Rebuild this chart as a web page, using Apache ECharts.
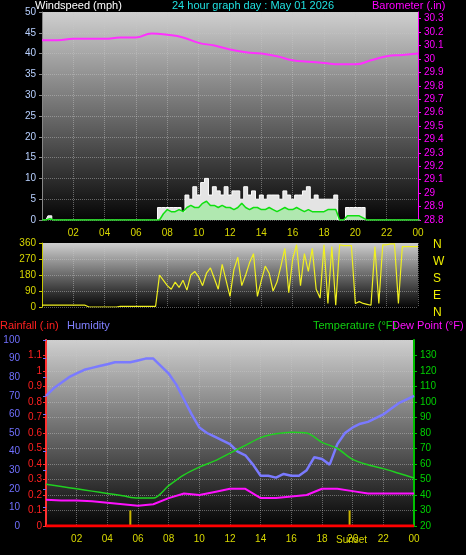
<!DOCTYPE html>
<html><head><meta charset="utf-8">
<script src="https://cdn.jsdelivr.net/npm/echarts@6/dist/echarts.min.js"></script>
<style>html,body{margin:0;background:#000}#c{width:466px;height:555px}</style>
</head><body><div id="c"></div>
<script>
const hourTicks = ['02','04','06','08','10','12','14','16','18','20','22','00'];
const baroHourly = [30.14,30.14,30.15,30.15,30.15,30.16,30.16,30.19,30.18,30.16,30.12,30.10,30.07,30.05,30.04,30.02,29.99,29.98,29.97,29.96,29.96,29.99,30.02,30.03,30.04];
const gustQuarter = [0,0,1,0,0,0,0,0,0,0,0,0,0,0,0,0,0,0,0,0,0,0,0,0,0,0,0,0,0,0,
 3,3,3,3,3,3,2,6,5,8,6,9,10,6,8,7,6,8,6,7,7,5,8,6,7,5,6,5,6,6,6,5,7,6,5,6,6,7,8,5,6,5,5,5,5,6,0,0,
 3,3,3,3,3,0, 0,0,0,0,0,0,0,0,0,0,0,0,0,0];
const avgQuarter = [0,0,0.3,0,0,0,0,0,0,0,0,0,0,0,0,0,0,0,0,0,0,0,0,0,0,0,0,0,0,0,
 0,1.5,2.5,2,2,2.5,2,3,3.5,3,3,4,4.5,3.5,3.5,3,3.5,3,3,2.5,3,4,3,2.5,3,3,2.5,2.5,3,2.5,2,2.5,3,2.5,2.5,3,2.5,2,2.5,2,2,2,2,2.5,2.5,2.5,0,0,
 1,1,1,1,0.5,0, 0,0,0,0,0,0,0,0,0,0,0,0,0,0];
const dirQuarter = [10,10,10,10,10,10,10,10,10,10,10,10,0,0,0,0,0,0,0,0,3,3,3,3,3,3,3,3,3,3,
 180,150,120,100,140,110,150,95,180,200,170,120,190,220,160,100,240,150,60,210,280,120,180,250,300,60,150,230,190,90,140,230,330,80,270,350,120,300,200,330,100,50,350,20,340,10,350,
 345,345,345,20,30,20,15,10,340,20,350,350,355,355,20,340,340,340,340,340];
const humidityHalf = [70,74,77,80,82,84,85,86,87,88,88,88,89,90,90,86,82,76,68,60,53,50,48,46,44,40,38,33,27,27,26,28,27,27,30,37,36,33,44,50,53,55,56,58,60,63,66,68,70];
const tempHourly = [47,45.5,44,42.5,41,39.5,38,38,46,53,58,62,67,72,77,79.5,80.5,80,74,70,63,59.5,57,54,51];
const dewHourly = [37,36.5,36.5,36,35,34,33,34,38,41,40,42,44,44,38,38,39,40,44,44,42.5,41,41,41,41];
const rainHourly = [0,0,0,0,0,0,0,0,0,0,0,0,0,0,0,0,0,0,0,0,0,0,0,0,0];
const sunEvents = [5.5, 19.8];
const dirLabels = ['N','W','S','E','N'];

const step = (arr, s) => arr.map((v,i)=>[i*s, v]);
const F = 'Liberation Sans, Arial, sans-serif';
const bg = {type:'linear',x:0,y:0,x2:0,y2:1,colorStops:[{offset:0,color:'#cfcfcf'},{offset:1,color:'#050505'}]};
const gridLine = {show:true,lineStyle:{color:'rgba(200,200,200,0.45)',type:'dotted'}};
const xFmt = v => v===0 ? '' : hourTicks[v/2-1];
function xAx(grid, showLabel){
  return {type:'value',gridIndex:grid,min:0,max:24,interval:2,
    axisLine:{show:false},axisTick:{show:false},splitLine:gridLine,
    axisLabel:{show:showLabel,color:'#d8d800',fontSize:10,fontFamily:F,formatter:xFmt,showMinLabel:false,margin:8}};
}
const chart = echarts.init(document.getElementById('c'));
chart.setOption({
  backgroundColor:'#000', animation:false,
  grid:[
    {left:42,right:48,top:12,height:208,show:true,backgroundColor:bg,borderWidth:0},
    {left:42,right:48,top:243,height:64,show:true,backgroundColor:bg,borderWidth:0},
    {left:46,right:52,top:340,height:186,show:true,backgroundColor:bg,borderWidth:0}
  ],
  xAxis:[xAx(0,true),xAx(1,false),xAx(2,true)],
  yAxis:[
    {type:'value',gridIndex:0,position:'left',min:0,max:50,interval:5,splitLine:gridLine,
     axisLine:{show:true,lineStyle:{color:'#888'}},axisTick:{show:true,length:3,lineStyle:{color:'#888'}},
     axisLabel:{color:'#b8d0ff',fontSize:10,fontFamily:F,margin:6}},
    {type:'value',gridIndex:0,position:'right',min:28.8,max:30.35,interval:0.1,splitLine:{show:false},
     axisLine:{show:true,lineStyle:{color:'#ff00ff'}},axisTick:{show:true,length:3},
     axisLabel:{color:'#ff00ff',fontSize:10,fontFamily:F,margin:6,formatter:v=>(Math.round(v*10)/10).toString(),showMaxLabel:false}},
    {type:'value',gridIndex:1,position:'left',min:0,max:360,interval:90,splitLine:gridLine,
     axisLine:{show:true,lineStyle:{color:'#c8c800'}},axisTick:{show:true,length:3},
     axisLabel:{color:'#d8d800',fontSize:10,fontFamily:F,margin:6}},
    {type:'value',gridIndex:2,position:'left',min:0,max:100,interval:10,offset:20,splitLine:{show:false},
     axisLine:{show:true,lineStyle:{color:'#7070ff',width:2}},axisTick:{show:true,length:3,lineStyle:{color:'#7070ff'}},
     axisLabel:{color:'#7070ff',fontSize:10,fontFamily:F,margin:6}},
    {type:'value',gridIndex:2,position:'left',min:0,max:1.2,interval:0.1,splitLine:gridLine,
     axisLine:{show:true,lineStyle:{color:'#ff3030',width:2}},axisTick:{show:true,length:3,lineStyle:{color:'#ff3030'}},
     axisLabel:{color:'#ff2020',fontSize:10,fontFamily:F,margin:4,formatter:v=>(Math.round(v*10)/10).toString(),showMaxLabel:false}},
    {type:'value',gridIndex:2,position:'right',min:20,max:140,interval:10,splitLine:{show:false},
     axisLine:{show:true,lineStyle:{color:'#00c000',width:2}},axisTick:{show:true,length:3,lineStyle:{color:'#00c000'}},
     axisLabel:{color:'#00d000',fontSize:10,fontFamily:F,margin:6,showMaxLabel:false}}
  ],
  series:[
    {type:'line',xAxisIndex:0,yAxisIndex:0,data:step(gustQuarter,0.25),step:'middle',symbol:'none',
     lineStyle:{color:'#ffffff',width:1},areaStyle:{color:'#e4e4e4',opacity:1}},
    {type:'line',xAxisIndex:0,yAxisIndex:0,data:step(avgQuarter,0.25),symbol:'none',
     lineStyle:{color:'#10e010',width:1.5},areaStyle:{color:'#b0e8b0',opacity:1}},
    {type:'line',xAxisIndex:0,yAxisIndex:1,data:step(baroHourly,1),symbol:'none',smooth:true,
     lineStyle:{color:'#ff30ff',width:2}},
    {type:'line',xAxisIndex:1,yAxisIndex:2,data:step(dirQuarter,0.25),symbol:'none',
     lineStyle:{color:'#f0f020',width:1.2}},
    {type:'line',xAxisIndex:2,yAxisIndex:3,data:step(humidityHalf,0.5),symbol:'none',
     lineStyle:{color:'#7a7aff',width:2.5}},
    {type:'line',xAxisIndex:2,yAxisIndex:5,data:step(tempHourly,1),symbol:'none',smooth:0.3,
     lineStyle:{color:'#20d020',width:1.5}},
    {type:'line',xAxisIndex:2,yAxisIndex:5,data:step(dewHourly,1),symbol:'none',
     lineStyle:{color:'#ff10ff',width:2}},
    {type:'line',xAxisIndex:2,yAxisIndex:4,data:step(rainHourly,1),symbol:'none',
     lineStyle:{color:'#ff0000',width:3},z:5},
    ...sunEvents.map(h=>({type:'line',xAxisIndex:2,yAxisIndex:4,data:[[h,0],[h,0.1]],symbol:'none',
     lineStyle:{color:'#c8b400',width:2}}))
  ],
  graphic:[
    {type:'text',left:35,top:0,style:{text:'Windspeed (mph)',fill:'#ffffff',font:'11px '+F}},
    {type:'text',left:172,top:0,style:{text:'24 hour graph day : May 01 2026',fill:'#20e0e0',font:'11px '+F}},
    {type:'text',left:372,top:0,style:{text:'Barometer (.in)',fill:'#ff00ff',font:'11px '+F}},
    ...dirLabels.map((t,i)=>({type:'text',left:433,top:239+i*17,style:{text:t,fill:'#f0f000',font:'12px '+F}})),
    {type:'text',left:0,top:320,style:{text:'Rainfall (.in)',fill:'#ff2020',font:'11px '+F}},
    {type:'text',left:67,top:320,style:{text:'Humidity',fill:'#8080ff',font:'11px '+F}},
    {type:'text',left:313,top:320,style:{text:'Temperature (°F)',fill:'#10d010',font:'11px '+F}},
    {type:'text',left:392,top:320,style:{text:'Dew Point (°F)',fill:'#ff10ff',font:'11px '+F}},
    {type:'text',left:336,top:535,style:{text:'Sunset',fill:'#d8d800',font:'10px '+F}}
  ]
});
</script></body></html>
